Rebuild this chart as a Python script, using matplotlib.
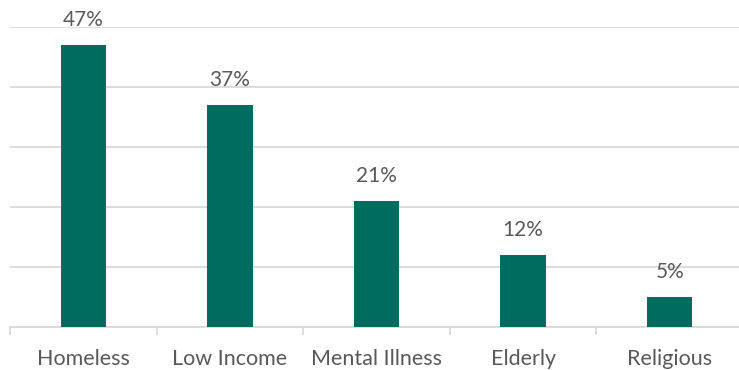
import numpy as np
import matplotlib.pyplot as plt

categories = ['Homeless', 'Low Income', 'Mental Illness', 'Elderly', 'Religious']
values = [47, 37, 21, 12, 5]
labels = ['47%', '37%', '21%', '12%', '5%']

bar_color = '#006C60'
text_color = '#595959'
grid_color = '#D9D9D9'

plt.rcParams['font.family'] = ['Lato', 'DejaVu Sans']

fig = plt.figure(figsize=(7.39, 3.70), dpi=100)
ax = fig.add_axes([10 / 739, 43 / 370, 733 / 739, 300 / 370])

x = np.arange(len(categories))
bars = ax.bar(x, values, width=0.31, color=bar_color, zorder=3)

for b, lab in zip(bars, labels):
    ax.annotate(lab, (b.get_x() + b.get_width() / 2, b.get_height()),
                xytext=(0, 11), textcoords='offset points',
                ha='center', va='bottom', fontsize=15, color=text_color)

ax.set_xlim(-0.5, len(categories) - 0.5)
ax.set_ylim(0, 50)
ax.set_yticks(np.arange(0, 51, 10))
ax.yaxis.grid(True, color=grid_color, linewidth=1.3, zorder=0)
ax.tick_params(axis='y', left=False, labelleft=False)

ax.set_xticks(x)
ax.set_xticklabels(categories, fontsize=15.5, color=text_color)
ax.tick_params(axis='x', which='major', length=0, pad=16)
ax.set_xticks(np.arange(-0.5, len(categories), 1), minor=True)
ax.tick_params(axis='x', which='minor', length=6, color=grid_color, width=1.3)

for s in ['top', 'right', 'left']:
    ax.spines[s].set_visible(False)
ax.spines['bottom'].set_color(grid_color)
ax.spines['bottom'].set_linewidth(1.3)

fig.savefig('out.png', dpi=100)
